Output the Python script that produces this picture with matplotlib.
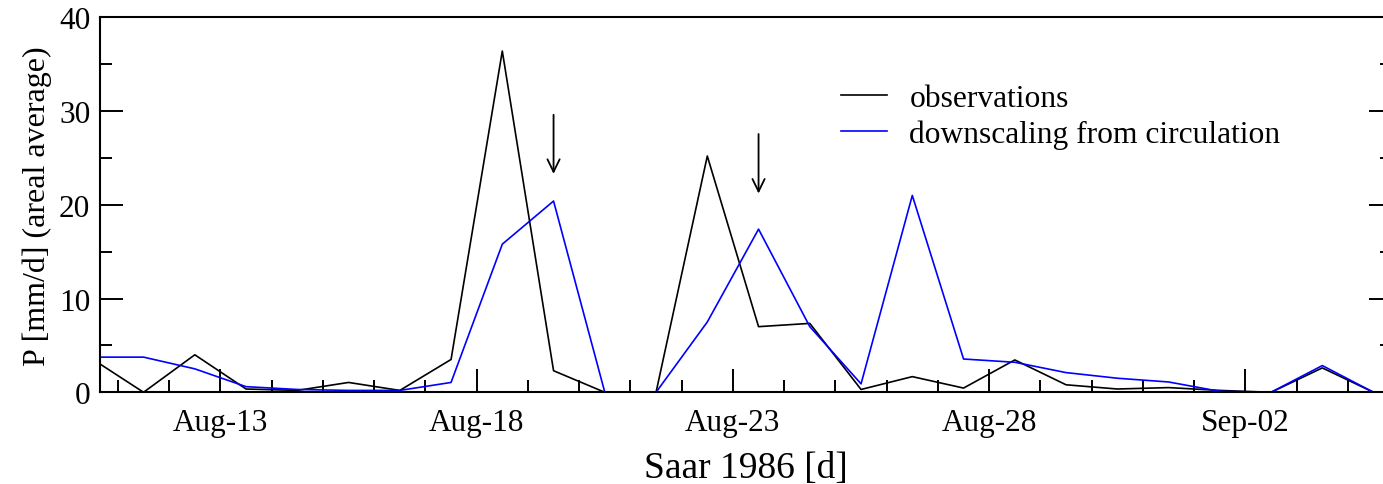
import pandas as pd
import matplotlib
matplotlib.use('Agg')
import matplotlib.pyplot as plt
import matplotlib.dates as mdates

plt.rcParams['font.family'] = ['Liberation Serif', 'DejaVu Serif']

# daily areal precipitation (mm/d), values at midday
dates = pd.date_range('1986-08-10 12:00', periods=26, freq='D')

observations = [3.55, 0.0, 4.0, 0.35, 0.2, 1.05, 0.2, 3.5, 36.4, 2.3,
                0.0, 0.0, 25.2, 7.0, 7.35, 0.3, 1.67, 0.45, 3.45, 0.8,
                0.35, 0.5, 0.2, 0.0, 2.6, 0.0]
downscaled = [3.75, 3.75, 2.5, 0.6, 0.3, 0.2, 0.2, 1.05, 15.8, 20.4,
              0.0, 0.0, 7.5, 17.4, 7.0, 0.9, 21.0, 3.55, 3.2, 2.1,
              1.5, 1.1, 0.1, 0.0, 2.85, 0.0]

tick_dates = ['1986-08-13', '1986-08-18', '1986-08-23', '1986-08-28', '1986-09-02']

# arrows marking the shifted maxima: (date, start, end)
arrows = [('1986-08-19 12:00', 29.6, 23.3),
          ('1986-08-23 12:00', 27.55, 21.2)]

fig = plt.figure(figsize=(13.83, 4.85), dpi=100)
ax = fig.add_axes([0.0723, 0.1891, 0.9342, 0.7732])

ax.plot(dates, observations, color='black', lw=1.2, label='observations')
ax.plot(dates, downscaled, color='#0000ff', lw=1.2, label='downscaling from circulation')

for d, y0, y1 in arrows:
    t = pd.Timestamp(d)
    ax.annotate('', xy=(t, y1), xytext=(t, y0),
                arrowprops=dict(arrowstyle='->,head_length=0.45,head_width=0.22',
                                mutation_scale=20, color='black', lw=1.3,
                                shrinkA=0, shrinkB=0))

ax.set_ylim(0, 40)
ax.set_xlim(pd.Timestamp('1986-08-10 15:36'), pd.Timestamp('1986-09-04 20:38'))

ax.set_yticks([0, 10, 20, 30, 40])
ax.set_yticks([5, 15, 25, 35], minor=True)
ax.set_xticks(pd.to_datetime(tick_dates))
ax.xaxis.set_minor_locator(mdates.DayLocator())
ax.xaxis.set_major_formatter(mdates.DateFormatter('%b-%d'))

ax.tick_params(which='both', direction='in', width=1.4, right=True, top=False,
               labelsize=22.5)
ax.tick_params(which='major', length=16.5)
ax.tick_params(which='minor', length=8.5)
ax.tick_params(axis='x', pad=11)
ax.tick_params(axis='y', pad=7)

for s in ax.spines.values():
    s.set_linewidth(1.5)

ax.set_xlabel('Saar 1986 [d]', fontsize=27, labelpad=10)
ax.set_ylabel('P [mm/d] (areal average)', fontsize=23, labelpad=5)

ax.legend(loc='upper left', bbox_to_anchor=(0.5735, 0.821), frameon=False,
          fontsize=22.7, handlelength=1.45, handletextpad=0.72, labelspacing=0.2,
          borderpad=0, borderaxespad=0)

fig.savefig('out.png', dpi=100)
